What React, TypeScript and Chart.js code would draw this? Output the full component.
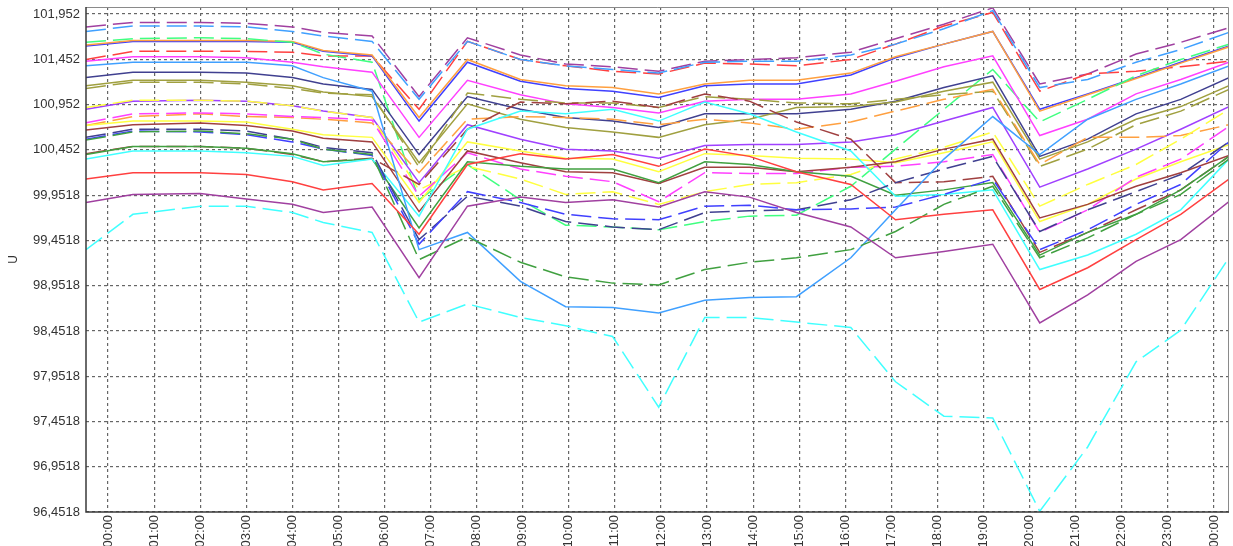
import React, { useEffect, useRef } from 'react';
import { Chart, registerables } from 'chart.js';

Chart.register(...registerables);

// Time of each reading, in hours from midnight
const times = [-0.478, 0.54, 2.0, 3.0, 4.0, 4.67, 5.73, 6.75, 7.8, 8.95, 9.93, 10.95, 11.95, 12.95, 13.92, 14.94, 16.12, 17.09, 18.14, 19.2, 20.22, 21.26, 22.31, 23.28, 24.327];

const hourTicks = [0, 1, 2, 3, 4, 5, 6, 7, 8, 9, 10, 11, 12, 13, 14, 15, 16, 17, 18, 19, 20, 21, 22, 23, 24];
const hourLabels = ['00:00', '01:00', '02:00', '03:00', '04:00', '05:00', '06:00', '07:00', '08:00', '09:00', '10:00', '11:00', '12:00', '13:00', '14:00', '15:00', '16:00', '17:00', '18:00', '19:00', '20:00', '21:00', '22:00', '23:00', '00:00'];
const yTicks = [96.4518, 96.9518, 97.4518, 97.9518, 98.4518, 98.9518, 99.4518, 99.9518, 100.4518, 100.9518, 101.4518, 101.9518];

const purpleDashed = [101.81, 101.86, 101.86, 101.85, 101.81, 101.75, 101.71, 101.04, 101.69, 101.5, 101.4, 101.37, 101.32, 101.43, 101.45, 101.47, 101.53, 101.68, 101.84, 102.02, 101.18, 101.29, 101.51, 101.64, 101.8];
const lightBlueDashed = [101.76, 101.82, 101.82, 101.81, 101.76, 101.71, 101.65, 101.01, 101.65, 101.45, 101.38, 101.34, 101.3, 101.42, 101.43, 101.43, 101.5, 101.62, 101.79, 101.99, 101.14, 101.23, 101.42, 101.56, 101.75];
const redDashed = [101.45, 101.54, 101.54, 101.54, 101.53, 101.49, 101.49, 100.9, 101.65, 101.45, 101.38, 101.32, 101.29, 101.41, 101.4, 101.38, 101.45, 101.62, 101.82, 101.97, 101.1, 101.29, 101.32, 101.37, 101.43];
const springDashed = [101.64, 101.68, 101.69, 101.68, 101.64, 101.51, 101.42, 99.9, 100.29, 99.9, 99.62, 99.6, 99.57, 99.66, 99.72, 99.73, 100.05, 100.46, 100.9, 101.34, 100.76, 101.01, 101.27, 101.45, 101.62];
const blueSolid = [101.6, 101.65, 101.65, 101.65, 101.64, 101.54, 101.49, 100.77, 101.42, 101.21, 101.13, 101.1, 101.03, 101.16, 101.18, 101.18, 101.28, 101.47, 101.62, 101.76, 100.9, 101.07, 101.25, 101.42, 101.6];
const orangeSolid = [101.61, 101.66, 101.66, 101.66, 101.65, 101.55, 101.5, 100.81, 101.45, 101.23, 101.16, 101.14, 101.07, 101.18, 101.22, 101.22, 101.3, 101.48, 101.62, 101.76, 100.88, 101.06, 101.24, 101.41, 101.59];
const magentaSolid = [101.43, 101.48, 101.48, 101.47, 101.42, 101.37, 101.31, 100.59, 101.22, 101.06, 100.96, 100.92, 100.86, 100.99, 101.01, 101.01, 101.07, 101.21, 101.37, 101.49, 100.61, 100.79, 101.07, 101.23, 101.42];
const lightBlueSolid = [101.38, 101.42, 101.42, 101.42, 101.38, 101.25, 101.1, 99.35, 99.54, 99.0, 98.72, 98.71, 98.65, 98.79, 98.82, 98.83, 99.26, 99.79, 100.35, 100.82, 100.4, 100.79, 101.01, 101.18, 101.38];
const navySolid = [101.25, 101.31, 101.31, 101.3, 101.25, 101.18, 101.12, 100.4, 101.04, 100.9, 100.81, 100.77, 100.7, 100.85, 100.85, 100.85, 100.9, 100.99, 101.14, 101.27, 100.38, 100.57, 100.85, 101.01, 101.25];
const oliveSolid = [101.16, 101.22, 101.22, 101.2, 101.16, 101.09, 101.04, 100.31, 100.96, 100.79, 100.7, 100.65, 100.59, 100.73, 100.79, 100.92, 100.93, 100.98, 101.1, 101.2, 100.35, 100.54, 100.79, 100.93, 101.16];
const oliveDashed = [101.13, 101.2, 101.2, 101.18, 101.13, 101.08, 101.06, 100.26, 101.08, 101.01, 100.97, 100.97, 100.92, 101.04, 101.01, 100.97, 100.96, 101.01, 101.06, 101.1, 100.27, 100.46, 100.73, 100.88, 101.12];
const brownDashed = [100.41, 100.49, 100.49, 100.47, 100.4, 100.32, 100.36, 100.07, 100.68, 100.98, 100.96, 100.99, 100.92, 101.07, 100.99, 100.76, 100.57, 100.09, 100.1, 100.16, 99.32, 99.54, 99.79, 100.01, 100.38];
const greenSolid = [100.4, 100.49, 100.49, 100.47, 100.41, 100.32, 100.35, 99.59, 100.32, 100.27, 100.24, 100.24, 100.09, 100.32, 100.29, 100.21, 100.16, 99.95, 100.01, 100.09, 99.29, 99.54, 99.74, 100.01, 100.38];
const cyanSolid = [100.35, 100.44, 100.44, 100.42, 100.38, 100.28, 100.35, 99.72, 100.68, 100.88, 100.85, 100.9, 100.77, 100.98, 100.85, 100.65, 100.44, 99.94, 99.96, 100.01, 99.13, 99.29, 99.52, 99.79, 100.35];
const redSolid = [100.13, 100.2, 100.2, 100.18, 100.1, 100.01, 100.08, 99.52, 100.29, 100.41, 100.35, 100.4, 100.27, 100.46, 100.38, 100.21, 100.07, 99.68, 99.74, 99.79, 98.91, 99.15, 99.46, 99.74, 100.13];
const purpleSolid = [99.87, 99.96, 99.97, 99.91, 99.85, 99.76, 99.82, 99.04, 99.83, 99.93, 99.87, 99.9, 99.82, 99.99, 99.93, 99.76, 99.6, 99.26, 99.33, 99.41, 98.54, 98.85, 99.22, 99.46, 99.88];
const cyanDashed = [99.35, 99.74, 99.83, 99.83, 99.76, 99.65, 99.54, 98.55, 98.75, 98.6, 98.51, 98.39, 97.61, 98.6, 98.6, 98.55, 98.49, 97.89, 97.51, 97.49, 96.46, 97.17, 98.11, 98.46, 99.26];
const greenDashed = [100.56, 100.65, 100.66, 100.63, 100.57, 100.46, 100.4, 99.24, 99.49, 99.21, 99.05, 98.98, 98.96, 99.13, 99.21, 99.26, 99.35, 99.55, 99.85, 100.05, 99.26, 99.48, 99.74, 99.96, 100.35];
const blueDashed = [100.57, 100.66, 100.65, 100.62, 100.54, 100.46, 100.39, 99.41, 99.99, 99.87, 99.74, 99.69, 99.68, 99.83, 99.84, 99.79, 99.8, 99.82, 99.96, 100.13, 99.35, 99.57, 99.85, 100.07, 100.54];
const navyDashed = [100.59, 100.68, 100.68, 100.66, 100.57, 100.48, 100.42, 99.46, 99.94, 99.83, 99.66, 99.6, 99.57, 99.76, 99.78, 99.79, 99.9, 100.09, 100.24, 100.38, 99.55, 99.79, 99.99, 100.18, 100.54];
const yellowSolid = [100.72, 100.77, 100.77, 100.76, 100.68, 100.62, 100.59, 99.87, 100.54, 100.44, 100.36, 100.35, 100.21, 100.41, 100.39, 100.36, 100.35, 100.31, 100.42, 100.54, 99.66, 99.85, 100.13, 100.32, 100.51];
const yellowDashed = [100.92, 101.0, 101.0, 100.99, 100.94, 100.88, 100.81, 100.01, 100.27, 100.13, 99.96, 99.99, 99.85, 99.99, 100.07, 100.09, 100.18, 100.35, 100.48, 100.65, 99.83, 100.07, 100.29, 100.57, 100.9];
const violetSolid = [100.9, 100.99, 101.0, 100.99, 100.94, 100.88, 100.81, 100.09, 100.73, 100.57, 100.46, 100.44, 100.36, 100.5, 100.51, 100.51, 100.54, 100.62, 100.77, 100.92, 100.04, 100.24, 100.46, 100.68, 100.93];
const magentaDashed = [100.75, 100.85, 100.86, 100.85, 100.82, 100.81, 100.78, 99.94, 100.42, 100.24, 100.16, 100.1, 99.88, 100.2, 100.19, 100.19, 100.26, 100.27, 100.32, 100.4, 99.54, 99.79, 100.15, 100.35, 100.71];
const orangeDashed = [100.72, 100.82, 100.85, 100.82, 100.81, 100.79, 100.75, 100.2, 100.79, 100.82, 100.81, 100.79, 100.73, 100.79, 100.75, 100.68, 100.76, 100.88, 101.01, 101.12, 100.29, 100.59, 100.59, 100.61, 100.73];
const brownSolid = [100.67, 100.73, 100.75, 100.72, 100.66, 100.58, 100.54, 99.77, 100.44, 100.31, 100.21, 100.2, 100.08, 100.26, 100.26, 100.21, 100.26, 100.32, 100.46, 100.57, 99.7, 99.85, 100.05, 100.2, 100.39];

const DASH = [20, 7];

const seriesList: { values: number[]; color: string; dashed: boolean }[] = [
  { values: cyanDashed, color: '#40FFFF', dashed: true },
  { values: purpleSolid, color: '#A040A0', dashed: false },
  { values: redSolid, color: '#FF4040', dashed: false },
  { values: greenDashed, color: '#40A040', dashed: true },
  { values: lightBlueSolid, color: '#40A0FF', dashed: false },
  { values: blueDashed, color: '#4040FF', dashed: true },
  { values: navyDashed, color: '#404090', dashed: true },
  { values: cyanSolid, color: '#40FFFF', dashed: false },
  { values: greenSolid, color: '#40A040', dashed: false },
  { values: brownDashed, color: '#A04040', dashed: true },
  { values: brownSolid, color: '#A04040', dashed: false },
  { values: magentaDashed, color: '#FF40FF', dashed: true },
  { values: yellowDashed, color: '#FFFF40', dashed: true },
  { values: yellowSolid, color: '#FFFF40', dashed: false },
  { values: orangeDashed, color: '#FFA040', dashed: true },
  { values: violetSolid, color: '#A040FF', dashed: false },
  { values: oliveDashed, color: '#A0A040', dashed: true },
  { values: oliveSolid, color: '#A0A040', dashed: false },
  { values: navySolid, color: '#404090', dashed: false },
  { values: lightBlueDashed, color: '#40A0FF', dashed: true },
  { values: magentaSolid, color: '#FF40FF', dashed: false },
  { values: springDashed, color: '#40FF80', dashed: true },
  { values: orangeSolid, color: '#FFA040', dashed: false },
  { values: blueSolid, color: '#4040FF', dashed: false },
  { values: redDashed, color: '#FF4040', dashed: true },
  { values: purpleDashed, color: '#A040A0', dashed: true },
];

const FONT = 'Liberation Sans, Arial, sans-serif';

const framePlugin = {
  id: 'frame',
  afterDraw(chart: any) {
    const { ctx, chartArea } = chart;
    const { left, top, right, bottom } = chartArea;
    ctx.save();
    ctx.setLineDash([]);
    ctx.strokeStyle = '#8a8a8a';
    ctx.lineWidth = 1;
    ctx.beginPath();
    ctx.moveTo(left, top + 0.5);
    ctx.lineTo(right - 0.5, top + 0.5);
    ctx.lineTo(right - 0.5, bottom);
    ctx.stroke();
    ctx.strokeStyle = '#3a3a3a';
    ctx.lineWidth = 1.5;
    ctx.beginPath();
    ctx.moveTo(left, top);
    ctx.lineTo(left, bottom);
    ctx.lineTo(right, bottom);
    ctx.stroke();
    ctx.restore();
  },
};

function fmtY(v: number): string {
  const s = v >= 100 ? v.toFixed(3) : v.toFixed(4);
  return s.replace('.', ',');
}

export default function App() {
  const ref = useRef<HTMLCanvasElement | null>(null);

  useEffect(() => {
    if (!ref.current) return;
    const datasets = seriesList.map((s) => ({
      data: times.map((t, i) => ({ x: t, y: s.values[i] })),
      borderColor: s.color,
      backgroundColor: s.color,
      borderWidth: 1.5,
      borderDash: s.dashed ? DASH : [],
      pointRadius: 0,
      tension: 0,
      fill: false,
    }));
    const chart = new Chart(ref.current, {
      type: 'line',
      data: { datasets },
      plugins: [framePlugin],
      options: {
        animation: false,
        responsive: false,
        devicePixelRatio: 1,
        parsing: false as any,
        layout: { padding: { top: 7, right: 4, left: 0, bottom: 0 } },
        plugins: { legend: { display: false }, tooltip: { enabled: false } },
        scales: {
          x: {
            type: 'linear',
            min: times[0],
            max: times[times.length - 1],
            afterBuildTicks: (s: any) => {
              s.ticks = hourTicks.map((v) => ({ value: v }));
            },
            afterFit: (s: any) => {
              s.height = 34;
              s.paddingLeft = 0;
              s.paddingRight = 0;
            },
            ticks: {
              autoSkip: false,
              maxRotation: 90,
              minRotation: 90,
              padding: 3,
              color: '#333',
              font: { size: 13, family: FONT },
              callback: (v: any) => hourLabels[hourTicks.indexOf(Number(v))] ?? '',
            },
            grid: { color: '#666', lineWidth: 1.2, drawTicks: false },
            border: { display: false, dash: [3, 3] },
          },
          y: {
            type: 'linear',
            min: 96.4518,
            max: 102.03,
            afterBuildTicks: (s: any) => {
              s.ticks = yTicks.map((v) => ({ value: v }));
            },
            afterFit: (s: any) => {
              s.width = 86;
              s.paddingTop = 0;
              s.paddingBottom = 0;
            },
            title: {
              display: true,
              text: 'U',
              color: '#333',
              font: { size: 12, family: FONT },
              padding: { top: 6, bottom: 0 },
            },
            ticks: {
              padding: 6,
              color: '#333',
              font: { size: 13, family: FONT },
              callback: (v: any) => fmtY(Number(v)),
            },
            grid: { color: '#666', lineWidth: 1.2, drawTicks: false },
            border: { display: false, dash: [3, 3] },
          },
        },
      },
    } as any);
    return () => chart.destroy();
  }, []);

  return (
    <div style={{ position: 'fixed', left: 0, top: 0, width: 1233, height: 546, background: '#fff' }}>
      <canvas ref={ref} width={1233} height={546} style={{ display: 'block', width: 1233, height: 546 }} />
    </div>
  );
}
